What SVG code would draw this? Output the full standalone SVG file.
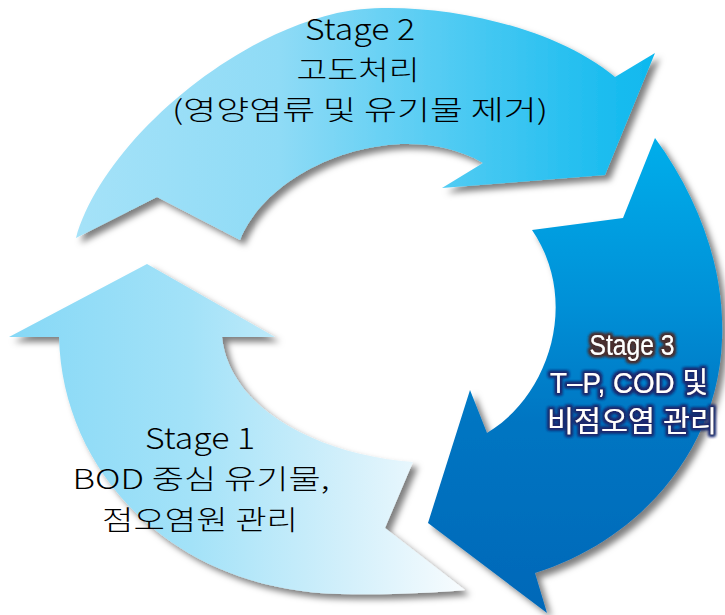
<svg xmlns="http://www.w3.org/2000/svg" width="725" height="615" viewBox="0 0 725 615">
  <style>
    .lbl { font-family: "Noto Sans CJK KR", sans-serif; font-size: 27px; font-weight: 300; fill: #000; text-anchor: middle; }
    .lat { font-size: 29px; }
    .lbl3 { font-family: "Liberation Sans", "Noto Sans CJK KR", sans-serif; font-size: 29px; fill: #ffffff; text-anchor: middle; }
  </style>
  <defs>
    <linearGradient id="g1" gradientUnits="userSpaceOnUse" x1="9" y1="0" x2="465" y2="0">
      <stop offset="0" stop-color="#86d8f6"/>
      <stop offset="0.4" stop-color="#a3e2f8"/>
      <stop offset="0.75" stop-color="#d4f0fb"/>
      <stop offset="1" stop-color="#f8fcfe"/>
    </linearGradient>
    <linearGradient id="g2" gradientUnits="userSpaceOnUse" x1="76" y1="0" x2="655" y2="0">
      <stop offset="0" stop-color="#a5e2f8"/>
      <stop offset="0.35" stop-color="#8fdbf6"/>
      <stop offset="0.7" stop-color="#45c8f2"/>
      <stop offset="1" stop-color="#0db8ee"/>
    </linearGradient>
    <linearGradient id="g3" gradientUnits="userSpaceOnUse" x1="0" y1="138" x2="0" y2="613">
      <stop offset="0" stop-color="#00aeeb"/>
      <stop offset="0.35" stop-color="#0090d7"/>
      <stop offset="0.6" stop-color="#0075c2"/>
      <stop offset="1" stop-color="#0068b8"/>
    </linearGradient>
    <filter id="sh" x="-10%" y="-10%" width="125%" height="125%">
      <feDropShadow dx="5" dy="5" stdDeviation="3" flood-color="#000" flood-opacity="0.5"/>
    </filter>
    <filter id="glowB" x="-20%" y="-50%" width="140%" height="200%">
      <feMorphology in="SourceAlpha" operator="dilate" radius="1.5" result="d"/>
      <feGaussianBlur in="d" stdDeviation="1.5" result="b"/>
      <feFlood flood-color="#4a2f2f"/>
      <feComposite in2="b" operator="in" result="g"/>
      <feMerge><feMergeNode in="g"/><feMergeNode in="g"/><feMergeNode in="SourceGraphic"/></feMerge>
    </filter>
    <filter id="glowN" x="-20%" y="-50%" width="140%" height="200%">
      <feMorphology in="SourceAlpha" operator="dilate" radius="1.5" result="d"/>
      <feGaussianBlur in="d" stdDeviation="1.5" result="b"/>
      <feFlood flood-color="#1d2a6e"/>
      <feComposite in2="b" operator="in" result="g"/>
      <feMerge><feMergeNode in="g"/><feMergeNode in="g"/><feMergeNode in="SourceGraphic"/></feMerge>
    </filter>
  </defs>

  <g id="connectors"></g>

  <g id="stage2">
    <path filter="url(#sh)" fill="url(#g2)" d="M 76,238 C 100,150 220,40 337,13 C 400,-2 540,15 615,77 L 655,53 L 605,175 L 442,188 L 483,163 C 400,115 270,165 240,240 L 157,197 Z"/>
    <text class="lbl lat" x="360" y="40" textLength="110" lengthAdjust="spacingAndGlyphs">Stage 2</text>
    <text class="lbl" x="358" y="80" textLength="123" lengthAdjust="spacingAndGlyphs">고도처리</text>
    <text class="lbl" x="360" y="120" textLength="376" lengthAdjust="spacingAndGlyphs">(영양염류 및 유기물 제거)</text>
  </g>

  <g id="stage3">
    <path filter="url(#sh)" fill="url(#g3)" d="M 655,138 C 700,200 725,270 722,340 C 718,450 640,540 535,573 L 547,613 L 428,523 L 470,390 L 487,433 C 550,395 580,300 532,230 L 623,218 Z"/>
    <text class="lbl3" filter="url(#glowB)" x="632" y="355" textLength="85" lengthAdjust="spacingAndGlyphs">Stage 3</text>
    <text class="lbl3" filter="url(#glowN)" x="629" y="393" textLength="158" lengthAdjust="spacingAndGlyphs">T–P, COD 및</text>
    <text class="lbl3" filter="url(#glowN)" x="632" y="432" textLength="170" lengthAdjust="spacingAndGlyphs">비점오염 관리</text>
  </g>

  <g id="stage1">
    <path filter="url(#sh)" fill="url(#g1)" d="M 147,264 L 275,337 L 222,337 C 230,410 320,455 413,462 L 385,528 L 465,590 C 430,593 390,595 340,594 C 170,590 62,470 59,337 L 9,337 Z"/>
    <text class="lbl lat" x="200" y="449" textLength="110" lengthAdjust="spacingAndGlyphs">Stage 1</text>
    <text class="lbl" x="201" y="489" textLength="257" lengthAdjust="spacingAndGlyphs">BOD 중심 유기물,</text>
    <text class="lbl" x="200" y="530" textLength="196" lengthAdjust="spacingAndGlyphs">점오염원 관리</text>
  </g>
</svg>
